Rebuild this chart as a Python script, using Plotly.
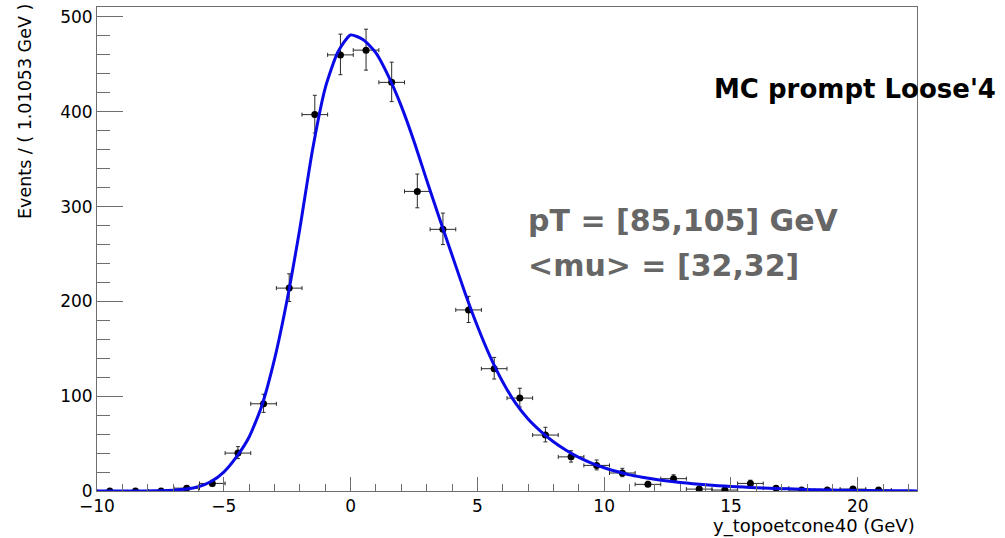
import plotly.graph_objects as go

# ---------------- data ----------------
bin_centers = [-9.495, -8.484, -7.474, -6.463, -5.453, -4.442, -3.432, -2.421,
               -1.411, -0.400, 0.610, 1.621, 2.632, 3.642, 4.653, 5.663,
               6.674, 7.684, 8.695, 9.705, 10.716, 11.726, 12.737, 13.747,
               14.758, 15.768, 16.779, 17.789, 18.800, 19.811, 20.821]
counts = [0, 0, 0, 3, 8, 40, 92, 214, 397, 460, 465, 431, 316, 276, 191, 129,
          98, 59, 36, 27, 19, 7, 13, 2, 1, 8, 3, 1, 1, 2, 1]
err_up = [1.15, 1.15, 1.15, 2.3, 3.4, 6.8, 10.1, 15.1, 20.4, 21.9, 22.1, 21.3,
          18.3, 17.1, 14.3, 11.9, 10.4, 8.2, 6.5, 5.7, 4.9, 3.2, 4.1, 2.0,
          1.6, 3.4, 2.3, 1.6, 1.6, 2.0, 1.6]
err_dn = [0, 0, 0, 1.3, 2.4, 5.8, 9.1, 14.1, 19.4, 20.9, 21.1, 20.3, 17.3,
          16.1, 13.3, 10.9, 9.4, 7.2, 5.5, 4.7, 3.9, 2.2, 3.1, 1.0, 0.6, 2.4,
          1.3, 0.6, 0.6, 1.0, 0.6]
bin_half_width = 1.01053 / 2

# fitted curve
fit_x = [-10, -9.5, -9, -8.5, -8, -7.5, -7, -6.5, -6, -5.5, -5, -4.5, -4,
         -3.5, -3, -2.5, -2, -1.5, -1, -0.5, 0, 0.5, 1, 1.5, 2, 2.5, 3, 3.5,
         4, 4.5, 5, 5.5, 6, 6.5, 7, 7.5, 8, 8.5, 9, 9.5, 10, 10.5, 11, 11.5,
         12, 12.5, 13, 13.5, 14, 14.5, 15, 15.5, 16, 16.5, 17, 17.5, 18, 18.5,
         19, 19.5, 20, 20.5, 21, 21.5, 22, 22.34]
fit_y = [0, 0, 0, 0.05, 0.1, 0.3, 0.8, 2, 4.5, 10, 20, 36, 57,
         90, 139, 202, 277, 360, 425, 463, 481, 476, 462, 437, 406, 369, 328,
         288, 249, 210, 174, 142, 115, 93, 76, 63, 52, 43, 35.5, 29.5, 24.5,
         20.5, 17, 14.5, 12.3, 10.5, 9, 7.7, 6.6, 5.6, 4.8, 4.1, 3.5, 3, 2.5,
         2, 1.6, 1.3, 1.0, 0.8, 0.6, 0.45, 0.3, 0.2, 0.15, 0.1]

x_title = "y_topoetcone40 (GeV)"
y_title = "Events / ( 1.01053 GeV )"
label_main = "MC prompt Loose'4"
label_pt = "pT = [85,105] GeV"
label_mu = "&lt;mu&gt; = [32,32]"

# ---------------- figure ----------------
W, H = 1005, 538
L, R, T, B = 97, 917, 7, 491
FONT = "DejaVu Sans"


def px(p):
    return (p - L) / (R - L)


def py(p):
    return (B - p) / (B - T)


fig = go.Figure()

fig.add_trace(go.Scatter(
    x=bin_centers, y=counts, mode="markers",
    marker=dict(color="black", size=7),
    error_y=dict(type="data", symmetric=False, array=err_up,
                 arrayminus=err_dn, color="#2a2a2a", thickness=1, width=2),
    error_x=dict(type="constant", value=bin_half_width, color="#2a2a2a",
                 thickness=1, width=2),
    showlegend=False, hoverinfo="skip",
))

fig.add_trace(go.Scatter(
    x=fit_x, y=fit_y, mode="lines",
    line=dict(color="#0a0ae6", width=3, shape="spline", smoothing=0.6),
    showlegend=False, hoverinfo="skip",
))

axis_common = dict(
    showgrid=False, zeroline=False, showline=True, linecolor="#6e6e6e",
    linewidth=1, mirror=True, ticks="inside", tickcolor="#6e6e6e",
    tickwidth=1, tickfont=dict(family=FONT, size=17, color="black"),
)

fig.update_xaxes(
    range=[-10, 22.337], tick0=-10, dtick=5, ticklen=14,
    minor=dict(ticks="inside", dtick=1, ticklen=7, tickcolor="#6e6e6e"),
    **axis_common,
)
fig.update_yaxes(
    range=[0, 510.5], tick0=0, dtick=100, ticklen=26,
    minor=dict(ticks="inside", dtick=20, ticklen=13, tickcolor="#6e6e6e"),
    **axis_common,
)

annotations = [
    dict(text=x_title, x=px(917), y=py(526), xanchor="right",
         yanchor="middle", font=dict(family=FONT, size=18, color="black")),
    dict(text=y_title, x=px(25), y=py(112), xanchor="center",
         yanchor="middle", textangle=-90,
         font=dict(family=FONT, size=17.5, color="black")),
    dict(text="<b>" + label_main + "</b>", x=px(712), y=py(89),
         xanchor="left", yanchor="middle",
         font=dict(family=FONT, size=26, color="black")),
    dict(text="<b>" + label_pt + "</b>", x=px(526), y=py(220),
         xanchor="left", yanchor="middle",
         font=dict(family=FONT, size=30, color="#666666")),
    dict(text="<b>" + label_mu + "</b>", x=px(526), y=py(265),
         xanchor="left", yanchor="middle",
         font=dict(family=FONT, size=30, color="#666666")),
]
for a in annotations:
    a.update(xref="paper", yref="paper", showarrow=False)

fig.update_layout(
    width=W, height=H,
    margin=dict(l=L, r=W - R, t=T, b=H - B, pad=0),
    paper_bgcolor="white", plot_bgcolor="white",
    annotations=annotations,
    font=dict(family=FONT),
)

fig.write_html("out.html")
